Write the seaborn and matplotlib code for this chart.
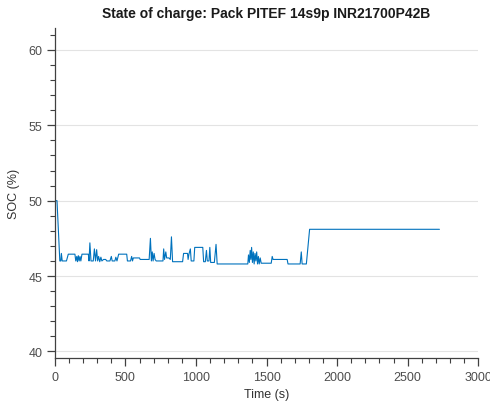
import numpy as np
import pandas as pd
import matplotlib
matplotlib.use("Agg")
import matplotlib.pyplot as plt
from matplotlib.ticker import MultipleLocator
import seaborn as sns

# Pack state of charge log: time (s) and SOC (%)
time_s = [0, 15, 35, 42, 46, 52, 82, 95, 142, 148, 155, 160, 166, 172, 178, 184,
          192, 237, 242, 248, 256, 272, 280, 288, 296, 303, 310, 318, 326, 333,
          345, 360, 368, 390, 400, 406, 425, 432, 440, 452, 509, 514, 536, 544,
          550, 556, 600, 604, 660, 668, 677, 684, 690, 696, 703, 710, 718, 766,
          771, 777, 786, 792, 808, 818, 826, 834, 905, 912, 940, 944, 950, 960,
          966, 985, 991, 1048, 1054, 1066, 1074, 1080, 1092, 1098, 1104, 1130,
          1142, 1150, 1367, 1372, 1378, 1384, 1389, 1394, 1400, 1406, 1412,
          1418, 1424, 1430, 1436, 1442, 1448, 1455, 1462, 1533, 1540, 1546,
          1646, 1652, 1738, 1746, 1752, 1782, 1805, 2725]
soc_pct = [50.0, 50.0, 46.0, 46.0, 46.5, 46.0, 46.0, 46.45, 46.45, 46.0, 46.3,
           45.95, 46.35, 46.0, 46.3, 46.0, 46.45, 46.45, 46.0, 47.2, 46.0, 46.0,
           46.8, 46.0, 46.75, 46.0, 46.3, 45.95, 46.25, 46.0, 46.1, 46.1, 46.0,
           46.0, 46.3, 46.0, 46.0, 46.25, 46.0, 46.45, 46.45, 46.0, 46.0, 46.3,
           46.0, 46.2, 46.2, 46.1, 46.1, 46.1, 47.5, 46.0, 46.6, 46.0, 46.5,
           46.1, 46.0, 46.0, 46.8, 46.1, 46.6, 46.2, 46.2, 46.1, 47.6, 45.95,
           45.95, 46.5, 46.5, 46.1, 46.45, 46.8, 46.0, 46.0, 46.9, 46.9, 45.95,
           45.95, 46.7, 46.0, 46.0, 46.9, 45.9, 45.9, 47.1, 45.8, 45.8, 46.4,
           45.9, 46.7, 46.1, 46.9, 45.9, 46.6, 45.8, 46.5, 46.0, 46.6, 45.8,
           46.3, 45.8, 46.2, 45.85, 45.85, 46.3, 46.1, 46.1, 45.8, 45.8, 46.6,
           45.8, 45.8, 48.1, 48.1]

x_ticks = [0, 500, 1000, 1500, 2000, 2500, 3000]
y_ticks = [40, 45, 50, 55, 60]

df = pd.DataFrame({"Time (s)": time_s, "SOC (%)": soc_pct})

sns.set_style("ticks")
plt.rcParams["font.family"] = ["Liberation Sans", "DejaVu Sans"]

fig = plt.figure(figsize=(4.9, 4.1), dpi=100)
ax = fig.add_axes([0.112, 0.124, 0.864, 0.805])

sns.lineplot(data=df, x="Time (s)", y="SOC (%)", ax=ax, color="#0072BD",
             linewidth=0.8, estimator=None, sort=False)

ax.set_xlim(0, 3000)
ax.set_ylim(39.55, 61.45)
ax.set_xticks(x_ticks)
ax.set_yticks(y_ticks)
ax.xaxis.set_minor_locator(MultipleLocator(100))
ax.yaxis.set_minor_locator(MultipleLocator(1))

ax.grid(axis="y", which="major", color="#e3e3e3", linewidth=0.8)
ax.set_axisbelow(True)

spine_col = "#404040"
for side in ("top", "right"):
    ax.spines[side].set_visible(False)
for side in ("left", "bottom"):
    ax.spines[side].set_color(spine_col)
    ax.spines[side].set_linewidth(0.9)

ax.tick_params(which="major", direction="out", length=6, width=0.9,
               color=spine_col, labelcolor="#4d4d4d", labelsize=9, pad=3)
ax.tick_params(which="minor", direction="out", length=3.5, width=0.8,
               color=spine_col)

ax.set_xlabel("Time (s)", fontsize=9, color="#333333", labelpad=4)
ax.set_ylabel("SOC (%)", fontsize=9, color="#333333", labelpad=6)
ax.set_title("State of charge: Pack PITEF 14s9p INR21700P42B",
             fontsize=10, fontweight="bold", color="#1a1a1a", pad=8)

fig.savefig("out.png", dpi=100)
